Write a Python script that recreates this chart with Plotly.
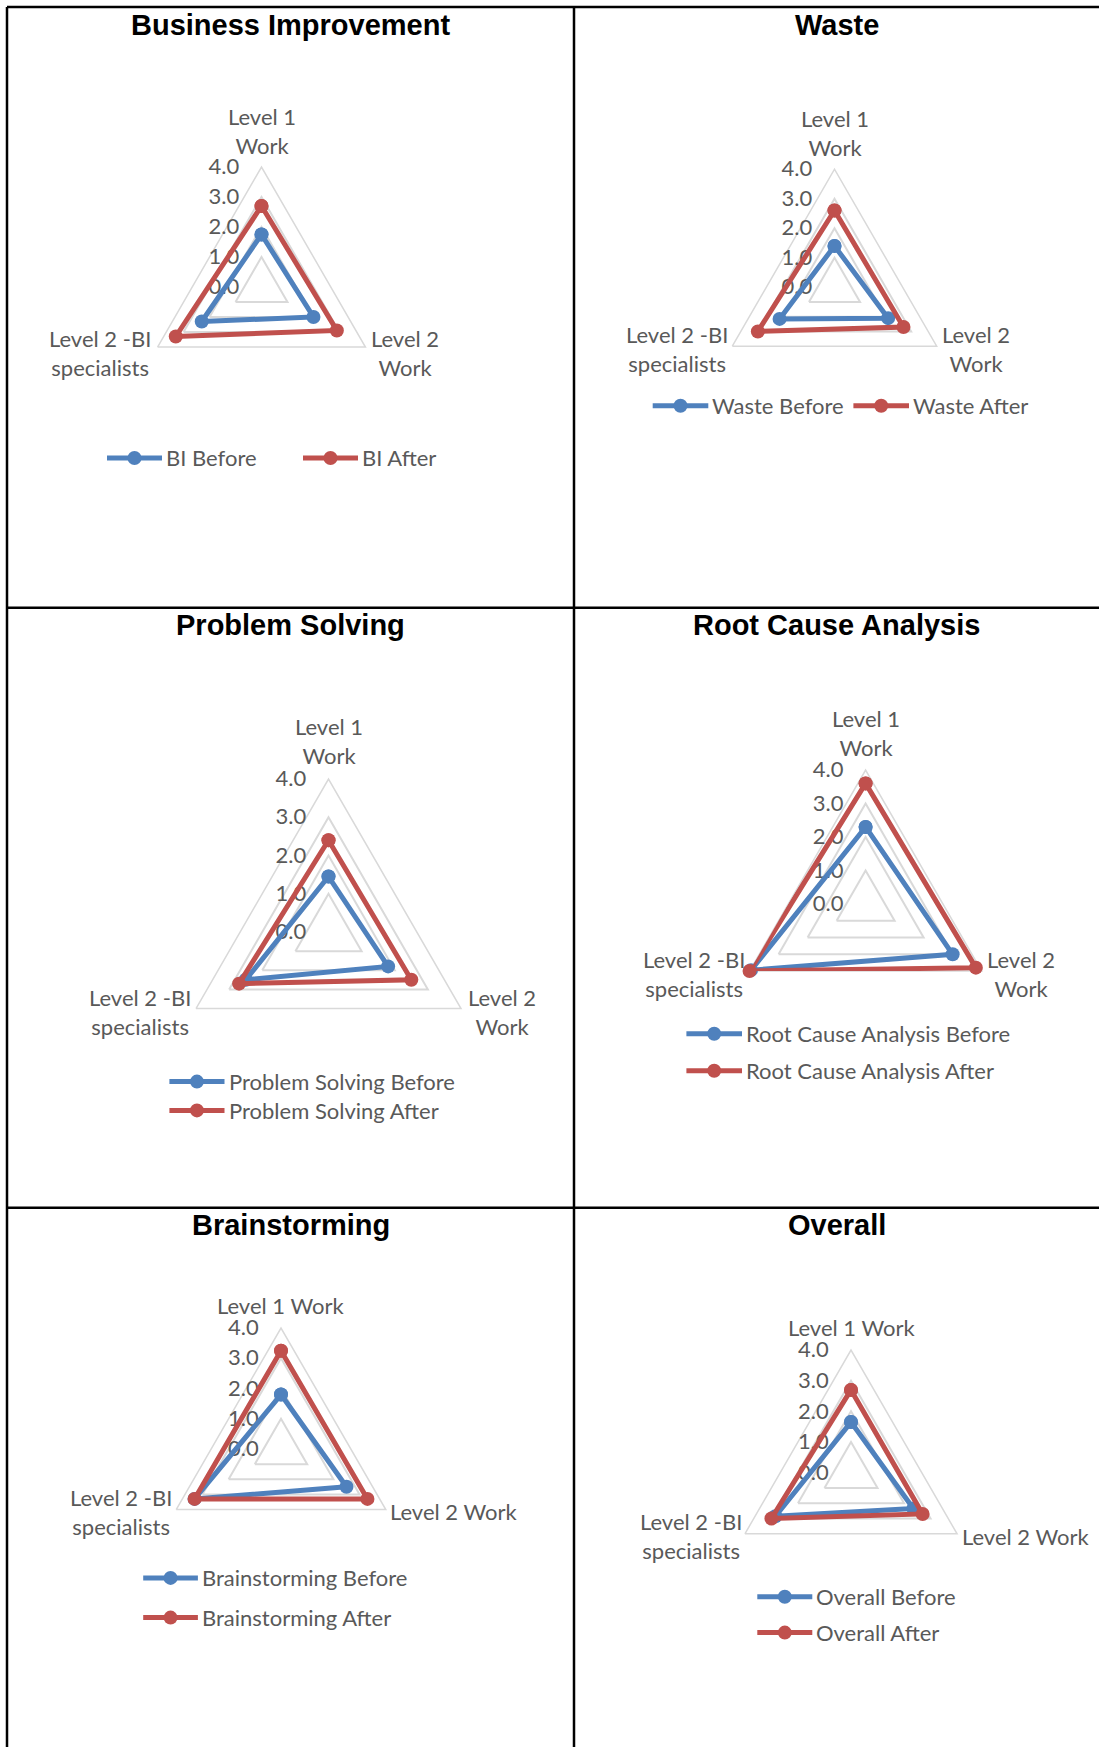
import plotly.graph_objects as go

# Axis categories (clockwise from the top vertex)
categories = ["Level 1 Work", "Level 2 Work", "Level 2 -BI specialists"]
radial_ticks = [0, 1, 2, 3, 4]

# Panel titles and series names
titles = ["Business Improvement", "Waste", "Problem Solving",
          "Root Cause Analysis", "Brainstorming", "Overall"]
series_prefix = ["BI", "Waste", "Problem Solving",
                 "Root Cause Analysis", "Brainstorming", "Overall"]

# Scores per panel: [Level 1 Work, Level 2 Work, Level 2 -BI specialists]
bi_before = [1.75, 2.0, 2.3]
bi_after = [2.7, 2.9, 3.3]
waste_before = [1.4, 2.1, 2.15]
waste_after = [2.6, 2.7, 3.0]
ps_before = [1.45, 1.8, 2.5]
ps_after = [2.4, 2.5, 2.7]
rca_before = [2.3, 3.0, 3.95]
rca_after = [3.6, 3.8, 4.0]
bs_before = [1.8, 2.5, 3.3]
bs_after = [3.25, 3.3, 3.3]
overall_before = [1.65, 2.35, 2.85]
overall_after = [2.7, 2.7, 3.0]

before_sets = [bi_before, waste_before, ps_before, rca_before, bs_before, overall_before]
after_sets = [bi_after, waste_after, ps_after, rca_after, bs_after, overall_after]

W, H = 1099, 1747
BLUE = "#4F81BD"
RED = "#C0504D"
GREY_TEXT = "#595959"
GRID = "#D9D9D9"
FONT = "Lato"
LINE_W = 5
MARKER = 14

# Layout of each panel in pixels: centre and outer radius of the radar
panels = [
    dict(cx=261.5, cy=287.0, R=120.0),
    dict(cx=834.5, cy=287.2, R=118.0),
    dict(cx=328.5, cy=932.0, R=153.0),
    dict(cx=865.6, cy=904.0, R=134.0),
    dict(cx=281.0, cy=1449.0, R=121.0),
    dict(cx=851.0, cy=1472.6, R=122.5),
]
title_pos = [(290.7, 25.3), (836.5, 25.3), (290.7, 625.3),
             (836.5, 625.3), (290.7, 1225.1), (836.5, 1225.1)]

# Category label placement: (x centre, y centre, text with line breaks)
label_pos = [
    [(261.5, 131.0, "Level 1<br>Work"), (405.0, 353.0, "Level 2<br>Work"),
     (100.4, 353.0, "Level 2 -BI<br>specialists")],
    [(834.5, 132.5, "Level 1<br>Work"), (975.5, 349.0, "Level 2<br>Work"),
     (677.0, 349.0, "Level 2 -BI<br>specialists")],
    [(328.5, 740.6, "Level 1<br>Work"), (501.6, 1011.8, "Level 2<br>Work"),
     (140.0, 1011.8, "Level 2 -BI<br>specialists")],
    [(865.6, 732.5, "Level 1<br>Work"), (1020.8, 974.4, "Level 2<br>Work"),
     (693.8, 974.4, "Level 2 -BI<br>specialists")],
    [(280.8, 1305.7, "Level 1 Work"), (453.5, 1511.6, "Level 2 Work"),
     (121.2, 1512.1, "Level 2 -BI<br>specialists")],
    [(851.7, 1327.3, "Level 1 Work"), (1025.8, 1536.7, "Level 2 Work"),
     (690.6, 1536.0, "Level 2 -BI<br>specialists")],
]

# Legend rows per panel: (line start x, line end x, row y) for Before, After
legend_rows = [
    [(107.0, 162.0, 458.0), (303.0, 358.0, 458.0)],
    [(652.7, 708.3, 405.7), (853.4, 909.0, 405.7)],
    [(169.4, 224.5, 1081.6), (169.4, 224.5, 1110.4)],
    [(686.4, 742.0, 1033.7), (686.4, 742.0, 1070.7)],
    [(143.2, 197.9, 1577.9), (143.2, 197.9, 1617.6)],
    [(757.3, 812.3, 1596.7), (757.3, 812.3, 1632.6)],
]


def px(x):
    return x / W


def py(y):
    return 1 - y / H


fig = go.Figure()
layout_updates = {}
annotations = []
shapes = []

for i, (p, title) in enumerate(zip(panels, titles)):
    pid = "polar" if i == 0 else f"polar{i + 1}"
    theta = categories + [categories[0]]
    series = (("Before", before_sets[i], BLUE), ("After", after_sets[i], RED))
    for (suffix, vals, color), (lx0, lx1, ly) in zip(series, legend_rows[i]):
        name = f"{series_prefix[i]} {suffix}"
        fig.add_trace(go.Scatterpolar(
            r=vals + [vals[0]],
            theta=theta,
            mode="lines+markers",
            name=name,
            line=dict(color=color, width=LINE_W),
            marker=dict(color=color, size=MARKER),
            subplot=pid,
            showlegend=False,
        ))
        # legend key: line with a centred marker, then the series name
        shapes.append(dict(type="line", xref="paper", yref="paper",
                           x0=px(lx0), x1=px(lx1), y0=py(ly), y1=py(ly),
                           line=dict(color=color, width=LINE_W)))
        shapes.append(dict(type="circle", xref="paper", yref="paper",
                           xsizemode="pixel", ysizemode="pixel",
                           xanchor=px((lx0 + lx1) / 2), yanchor=py(ly),
                           x0=-MARKER / 2, x1=MARKER / 2,
                           y0=-MARKER / 2, y1=MARKER / 2,
                           fillcolor=color, line=dict(width=0)))
        annotations.append(dict(
            x=px(lx1 + 2), y=py(ly), xref="paper", yref="paper", text=name,
            showarrow=False, xanchor="left", yanchor="middle",
            font=dict(family=FONT, size=22, color=GREY_TEXT),
        ))

    layout_updates[pid] = dict(
        domain=dict(x=[px(p["cx"] - p["R"]), px(p["cx"] + p["R"])],
                    y=[py(p["cy"] + p["R"]), py(p["cy"] - p["R"])]),
        gridshape="linear",
        bgcolor="white",
        radialaxis=dict(
            range=[0, 4], tickvals=radial_ticks, tickformat=".1f",
            angle=90, tickangle=90, side="counterclockwise",
            showline=False, gridcolor=GRID, gridwidth=1.5,
            ticks="outside", ticklen=14, tickcolor="rgba(0,0,0,0)",
            tickfont=dict(family=FONT, size=22, color=GREY_TEXT),
            layer="below traces",
        ),
        angularaxis=dict(
            rotation=90, direction="clockwise", showticklabels=False,
            showgrid=False, showline=True, linecolor=GRID, linewidth=1.5,
            ticks="", layer="below traces",
        ),
    )

    tx, ty = title_pos[i]
    annotations.append(dict(
        x=px(tx), y=py(ty), xref="paper", yref="paper", text=f"<b>{title}</b>",
        showarrow=False, xanchor="center", yanchor="middle",
        font=dict(family="Liberation Sans", size=29, color="black"),
    ))
    for (ax, ay, txt) in label_pos[i]:
        annotations.append(dict(
            x=px(ax), y=py(ay), xref="paper", yref="paper", text=txt,
            showarrow=False, xanchor="center", yanchor="middle", align="center",
            font=dict(family=FONT, size=22, color=GREY_TEXT),
        ))

# Table borders around the six panels
border = dict(color="black", width=2.5)
for y in (7, 607.7, 1207.7):
    shapes.append(dict(type="line", xref="paper", yref="paper",
                       x0=px(7), x1=1, y0=py(y), y1=py(y), line=border))
for x in (7, 574):
    shapes.append(dict(type="line", xref="paper", yref="paper",
                       x0=px(x), x1=px(x), y0=py(7), y1=0, line=border))

fig.update_layout(
    width=W, height=H,
    margin=dict(l=0, r=0, t=0, b=0, autoexpand=False),
    paper_bgcolor="white",
    plot_bgcolor="white",
    showlegend=False,
    annotations=annotations,
    shapes=shapes,
    **layout_updates,
)

fig.write_html("out.html")
